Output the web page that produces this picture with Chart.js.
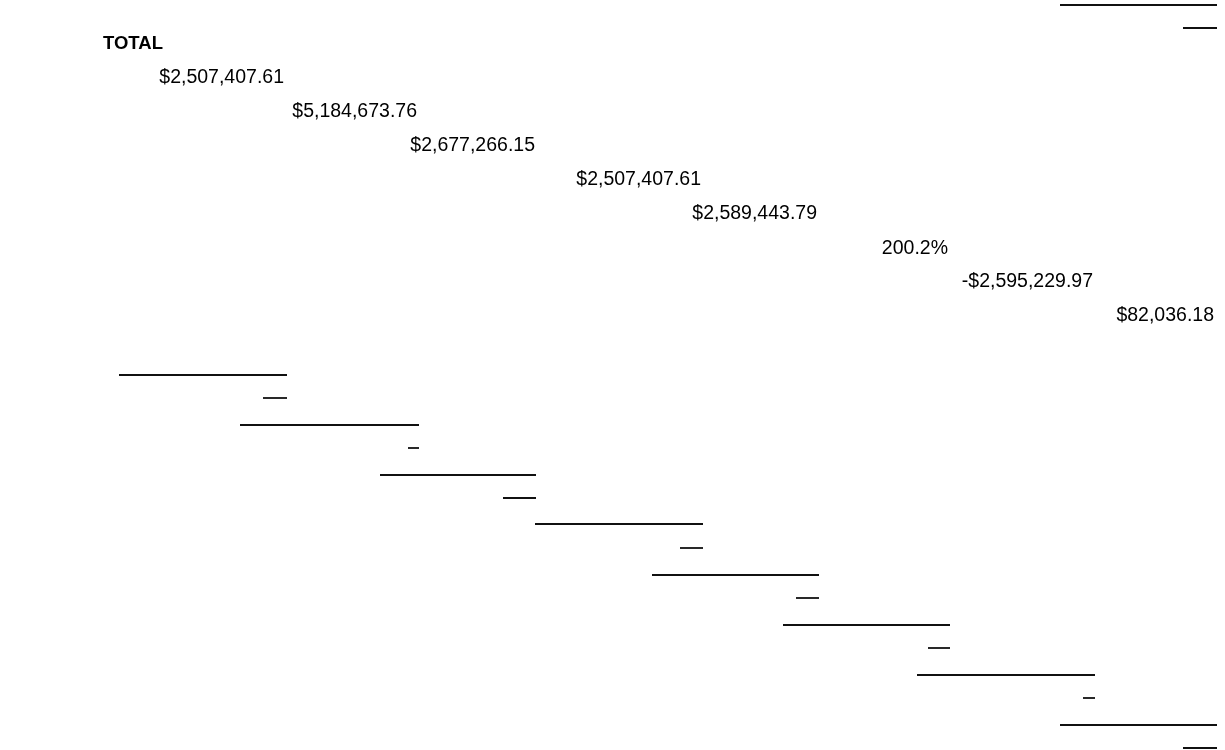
<!DOCTYPE html>
<html>
<head>
<meta charset="utf-8">
<script src="https://cdn.jsdelivr.net/npm/chart.js@4"></script>
<style>
  html, body { margin: 0; padding: 0; background: #fff; }
  #wrap { width: 1225px; height: 750px; position: relative; }
</style>
</head>
<body>
<div id="wrap"><canvas id="sheet"></canvas></div>
<script>
// Header cell
const TITLE = "TOTAL";
const TITLE_X = 103;
const TITLE_Y = 44;

// Value cells (right aligned to their column edge), stepping down the sheet
const VALUE_LABELS = ["$2,507,407.61", "$5,184,673.76", "$2,677,266.15", "$2,507,407.61",
  "$2,589,443.79", "200.2%", "-$2,595,229.97", "$82,036.18"];
const VALUE_X = [284, 417, 535, 701, 817, 948, 1093, 1214];
const VALUE_Y = [78, 112, 146, 180, 214, 249, 282, 316];

// Underscore rules (long + short pairs)
const RULE_Y  = [5, 28, 375, 398, 425, 448, 475, 498, 524, 548, 575, 598, 625, 648, 675, 698, 725, 748];
const RULE_X1 = [1060, 1183, 119, 263, 240, 408, 380, 503, 535, 680, 652, 796, 783, 928, 917, 1083, 1060, 1183];
const RULE_X2 = [1217, 1217, 287, 287, 419, 419, 536, 536, 703, 703, 819, 819, 950, 950, 1095, 1095, 1217, 1217];

const datasets = RULE_Y.map((y, i) => ({
  type: "line",
  data: [{ x: RULE_X1[i], y }, { x: RULE_X2[i], y }],
  borderColor: "#111",
  borderWidth: 1.8,
  pointRadius: 0,
  fill: false
}));

// draws the cell texts at data coordinates
const cellText = {
  id: "cellText",
  afterDatasetsDraw(c) {
    const { ctx, scales: { x, y } } = c;
    ctx.save();
    ctx.fillStyle = "#000";
    ctx.textBaseline = "middle";
    ctx.font = "bold 18.5px 'Liberation Sans', Arial, sans-serif";
    ctx.textAlign = "left";
    ctx.fillText(TITLE, x.getPixelForValue(TITLE_X), y.getPixelForValue(TITLE_Y));
    ctx.font = "19.5px 'Liberation Sans', Arial, sans-serif";
    ctx.textAlign = "right";
    VALUE_LABELS.forEach((t, i) => {
      ctx.fillText(t, x.getPixelForValue(VALUE_X[i]), y.getPixelForValue(VALUE_Y[i]));
    });
    ctx.restore();
  }
};

new Chart(document.getElementById("sheet"), {
  type: "line",
  data: { datasets },
  options: {
    responsive: true,
    maintainAspectRatio: false,
    animation: false,
    layout: { padding: 0 },
    plugins: { legend: { display: false }, tooltip: { enabled: false } },
    scales: {
      x: { type: "linear", min: 0, max: 1225, display: false },
      y: { type: "linear", min: 0, max: 750, reverse: true, display: false }
    }
  },
  plugins: [cellText]
});
</script>
</body>
</html>
